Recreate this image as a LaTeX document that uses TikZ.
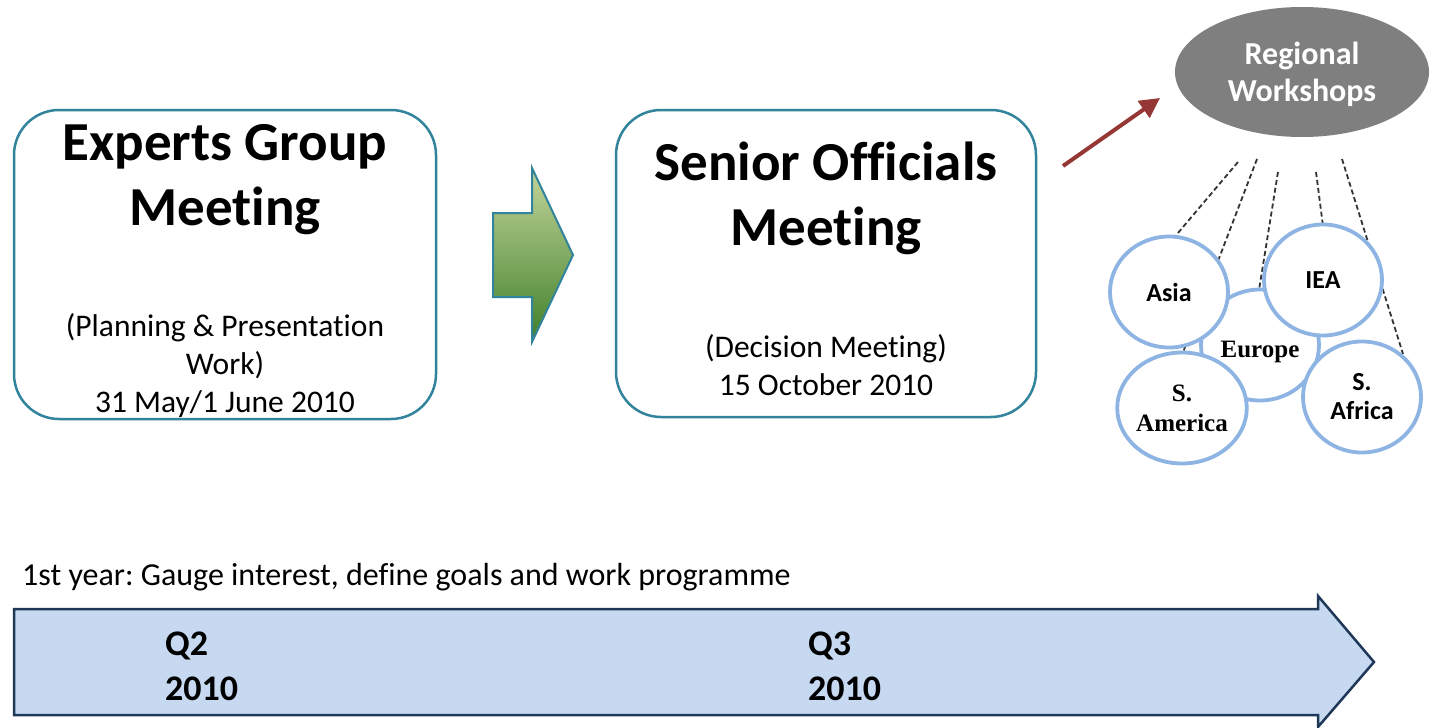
\documentclass[tikz,border=0pt]{standalone}
\usepackage{fontspec}
\setmainfont{Carlito}[Ligatures={NoCommon}]
\newfontfamily\timesfont{Liberation Serif}
\usetikzlibrary{shapes.geometric,arrows.meta}
\definecolor{teal1}{HTML}{31849B}
\definecolor{circblue}{HTML}{8EB4E3}
\definecolor{tlfill}{HTML}{C6D9F1}
\definecolor{tldraw}{HTML}{1F3858}
\definecolor{wsgray}{HTML}{7F7F7F}
\definecolor{redarrow}{HTML}{953735}
\definecolor{gtop}{HTML}{C3D69B}
\definecolor{gbot}{HTML}{3F7F2A}
\frenchspacing
\tikzset{
  meetbox/.style={draw=teal1, line width=2.5pt, rounded corners=45pt},
  titletext/.style={font=\bfseries\fontsize{55}{65}\selectfont, align=center, inner sep=0pt},
  subtext/.style={font=\fontsize{31.5}{38}\selectfont, align=center, inner sep=0pt},
  region/.style={ellipse, draw=circblue, line width=3.8pt, fill=white, minimum width=118pt, minimum height=111pt, inner sep=0pt, align=center},
  sansreg/.style={font=\bfseries\fontsize{26}{29}\selectfont},
  serifreg/.style={font=\timesfont\bfseries\fontsize{25}{30}\selectfont},
  dashline/.style={draw=black!80, line width=1.8pt, dash pattern=on 5pt off 3pt},
  qtext/.style={font=\bfseries\fontsize{36}{45}\selectfont, align=left, inner sep=0pt},
}
\begin{document}
\begin{tikzpicture}[x=1pt,y=-1pt]
\useasboundingbox (0,0) rectangle (1430,728);
\fill[white] (0,0) rectangle (1430,728);

% meeting boxes
\draw[meetbox] (14,110) rectangle (436,419);
\node[titletext] (egm) at (225,180) {Experts Group\\Meeting};
\node[subtext] (egmsub) at (225,366) {(Planning \& Presentation\\Work)\\31 May/1 June 2010};

\draw[meetbox] (616,110) rectangle (1036,417);
\node[titletext] (som) at (826,198) {Senior Officials\\Meeting};
\node[subtext] (somsub) at (826,365) {(Decision Meeting)\\15 October 2010};

% green block arrow
\draw[teal1, line width=2pt, top color=gtop, bottom color=gbot, line join=miter]
  (493,213) -- (532,213) -- (532,168) -- (573,255) -- (532,342) -- (532,297) -- (493,297) -- cycle;

% regional workshops
\node[ellipse, fill=wsgray, minimum width=254pt, minimum height=130pt, inner sep=0pt] (ws) at (1302,72) {};
\node[font=\bfseries\fontsize{32}{37}\selectfont, text=white, align=center, inner sep=0pt] (wstext) at (1302,74) {Regional\\Workshops};

\coordinate (arrstart) at (1063,166);
\coordinate (arrend) at (1160,98);
\draw[redarrow, line width=4pt, -{Triangle[length=20pt,width=20pt]}] (arrstart) -- (arrend);

% dashed connectors
\coordinate (d1) at (1238,162);
\coordinate (d2) at (1257,159);
\coordinate (d3) at (1278,172);
\coordinate (d4) at (1316,172);
\coordinate (d5) at (1342,159);
\coordinate (e1) at (1172,240);
\coordinate (e2) at (1182,355);
\coordinate (e3) at (1259,290);
\coordinate (e4) at (1323,226);
\coordinate (e5) at (1403,354);
\draw[dashline] (d1) -- (e1);
\draw[dashline] (d2) -- (e2);
\draw[dashline] (d3) -- (e3);
\draw[dashline] (d4) -- (e4);
\draw[dashline] (d5) -- (e5);

% region circles
\node[region] (europe) at (1260,345) {};
\node[serifreg, inner sep=0pt] (europetext) at (1260,352) {Europe};
\node[region, sansreg] (asia) at (1169,292) {Asia};
\node[region, sansreg] (iea) at (1323,280) {IEA};
\node[region, serifreg] (samerica) at (1182,408) {S.\\America};
\node[region, sansreg] (safrica) at (1362,397) {S.\\Africa};

% timeline
\node[anchor=west, font=\fontsize{32}{34}\selectfont, inner sep=0pt] (year) at (22,577) {1st year: Gauge interest, define goals and work programme};
\draw[tldraw, fill=tlfill, line width=2.5pt, line join=miter]
  (14,609) -- (1318,609) -- (1318,596) -- (1374,662) -- (1318,727) -- (1318,715) -- (14,715) -- cycle;
\node[qtext, anchor=west] (q2) at (165,666) {Q2\\2010};
\node[qtext, anchor=west] (q3) at (808,666) {Q3\\2010};
\end{tikzpicture}
\end{document}
